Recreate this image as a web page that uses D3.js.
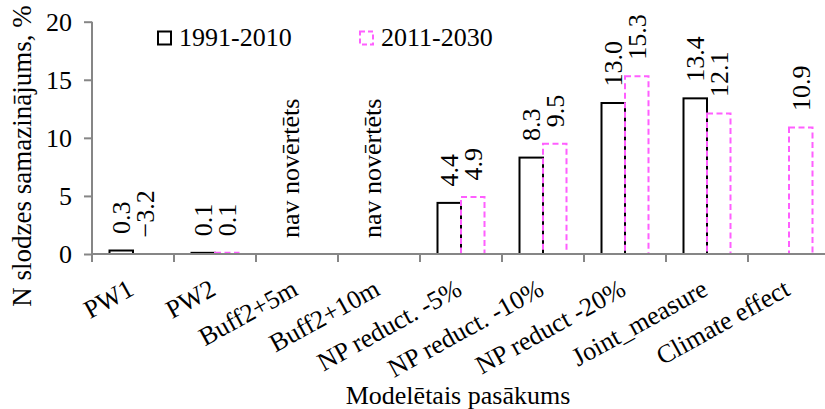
<!DOCTYPE html>
<html>
<head>
<meta charset="utf-8">
<script src="https://cdn.jsdelivr.net/npm/d3@7/dist/d3.min.js"></script>
<style>
  html, body { margin: 0; padding: 0; background: #fff; }
  svg { display: block; font-family: "Liberation Serif", "Times New Roman", serif; }
</style>
</head>
<body>
<svg id="chart" width="825" height="409"></svg>
<script>
// Categories and series values
const categories = ["PW1", "PW2", "Buff2+5m", "Buff2+10m", "NP reduct. -5%",
  "NP reduct. -10%", "NP reduct -20%", "Joint_measure", "Climate effect"];
const seriesNames = ["1991-2010", "2011-2030"];
const values1991 = [0.3, 0.1, null, null, 4.4, 8.3, 13.0, 13.4, null];
const values2011 = [-3.2, 0.1, null, null, 4.9, 9.5, 15.3, 12.1, 10.9];
const notAssessed = ["Buff2+5m", "Buff2+10m"];
const notAssessedText = "nav novērtēts";
const yTicks = [0, 5, 10, 15, 20];
const yTitle = "N slodzes samazinājums, %";
const xTitle = "Modelētais pasākums";

(function draw() {
  const svg = d3.select("#chart");
  const fontSize = 26;

  const plotLeft = 92, plotTop = 21.7, plotBottom = 254, bandW = 82;
  const x = d3.scaleBand().domain(categories)
    .range([plotLeft, plotLeft + bandW * categories.length]).padding(0);
  const xs = d3.scaleBand().domain(seriesNames)
    .range([17.5, bandW - 17.5]).padding(0);
  const y = d3.scaleLinear().domain([0, 20]).range([plotBottom, plotTop]).clamp(true);

  const styles = {
    "1991-2010": { stroke: "#000", dash: null },
    "2011-2030": { stroke: "#ff5fff", dash: "6,3.5" }
  };

  const rows = [];
  seriesNames.forEach((s, si) => {
    const vals = si === 0 ? values1991 : values2011;
    categories.forEach((c, i) => {
      if (vals[i] !== null) rows.push({ series: s, cat: c, value: vals[i] });
    });
  });

  // Bars (negative values are cut at the zero line)
  const barG = svg.append("g");
  seriesNames.forEach(s => {
    barG.selectAll(null)
      .data(rows.filter(r => r.series === s))
      .join("rect")
      .attr("x", d => x(d.cat) + xs(d.series))
      .attr("y", d => y(Math.max(d.value, 0)))
      .attr("width", xs.bandwidth())
      .attr("height", d => y(0) - y(Math.max(d.value, 0)))
      .attr("fill", "none")
      .attr("stroke", styles[s].stroke)
      .attr("stroke-width", 2)
      .attr("stroke-dasharray", styles[s].dash);
  });

  // Axes
  const axisColor = "#868686";
  const yAxis = svg.append("g")
    .attr("transform", `translate(${plotLeft},0)`)
    .call(d3.axisLeft(y).tickValues(yTicks).tickSize(8).tickPadding(12).tickFormat(d3.format("d")));
  yAxis.select(".domain").attr("stroke", axisColor).attr("stroke-width", 2)
    .attr("d", `M0,${plotTop}V${plotBottom}`);
  yAxis.selectAll(".tick line").attr("stroke", axisColor).attr("stroke-width", 2);
  yAxis.selectAll(".tick text").attr("font-size", fontSize)
    .attr("font-family", "Liberation Serif, serif").attr("fill", "#000");

  const xAxisG = svg.append("g");
  xAxisG.append("line")
    .attr("x1", plotLeft).attr("x2", x.range()[1])
    .attr("y1", y(0)).attr("y2", y(0))
    .attr("stroke", axisColor).attr("stroke-width", 2);
  const boundaries = categories.map(c => x(c)).concat([x.range()[1]]);
  xAxisG.selectAll(".xt").data(boundaries).join("line")
    .attr("x1", d => d).attr("x2", d => d)
    .attr("y1", y(0)).attr("y2", y(0) + 8)
    .attr("stroke", axisColor).attr("stroke-width", 2);

  xAxisG.selectAll(".xl").data(categories).join("text")
    .attr("transform", c => `translate(${x(c) + bandW / 2 - 7},${y(0) + 23}) rotate(-29)`)
    .attr("text-anchor", "end")
    .attr("dy", "0.75em")
    .attr("font-size", fontSize)
    .text(c => c);

  // Value labels
  const fmt = d3.format(".1f");
  svg.append("g").selectAll("text")
    .data(rows)
    .join("text")
    .attr("transform", d => {
      const cx = x(d.cat) + xs(d.series) + xs.bandwidth() / 2;
      const cy = y(Math.max(d.value, 0)) - 16.5;
      return `translate(${cx},${cy}) rotate(-90)`;
    })
    .attr("dy", "0.35em")
    .attr("font-size", fontSize)
    .text(d => fmt(d.value));

  // Categories without an assessment
  svg.append("g").selectAll("text")
    .data(notAssessed)
    .join("text")
    .attr("transform", c => `translate(${x(c) + bandW / 2 - 7},238) rotate(-90)`)
    .attr("dy", "0.35em")
    .attr("font-size", fontSize)
    .text(notAssessedText);

  // Legend
  const legend = [
    { name: seriesNames[0], x: 158 },
    { name: seriesNames[1], x: 360 }
  ];
  const lg = svg.append("g").selectAll("g").data(legend).join("g")
    .attr("transform", d => `translate(${d.x},31.5)`);
  lg.append("rect")
    .attr("width", 13).attr("height", 13)
    .attr("fill", "none")
    .attr("stroke", d => styles[d.name].stroke)
    .attr("stroke-width", 2)
    .attr("stroke-dasharray", d => styles[d.name].dash ? "5,3" : null);
  lg.append("text")
    .attr("x", 21).attr("y", 14.5)
    .attr("font-size", fontSize)
    .text(d => d.name);

  // Axis titles
  svg.append("text")
    .attr("transform", "translate(22,156) rotate(-90)")
    .attr("text-anchor", "middle")
    .attr("dy", "0.35em")
    .attr("font-size", 27)
    .text(yTitle);

  svg.append("text")
    .attr("x", 458).attr("y", 404)
    .attr("text-anchor", "middle")
    .attr("font-size", fontSize)
    .text(xTitle);
})();
</script>
</body>
</html>
